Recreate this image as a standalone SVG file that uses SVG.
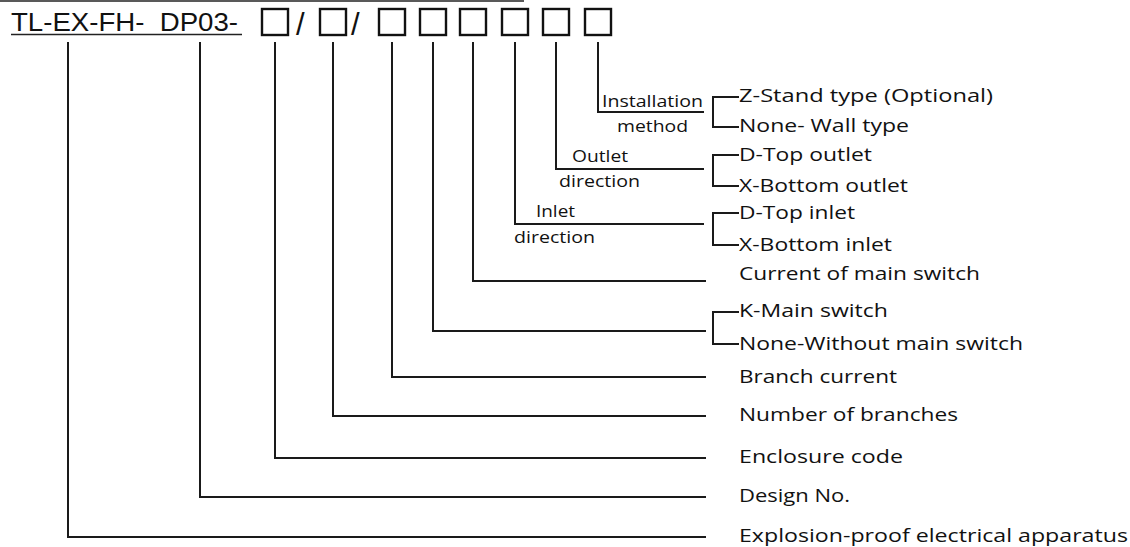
<svg xmlns="http://www.w3.org/2000/svg" width="1130" height="547" viewBox="0 0 1130 547">
<style>
.ln{fill:none;stroke:#1a1a1a;stroke-width:2;stroke-linecap:square}
.bx{fill:none;stroke:#111;stroke-width:2.4}
.t{font-family:"Open Sans","Lato",sans-serif;font-size:19px;fill:#111}
.s{font-family:"Open Sans","Lato",sans-serif;font-size:16px;fill:#111}
.h{font-family:"Liberation Sans Narrow","Liberation Sans",Arial,sans-serif;font-size:26.5px;fill:#111}
.sl{font-family:"Liberation Sans",Arial,sans-serif;font-size:31px;fill:#111}
</style>
<rect width="1130" height="547" fill="#fff"/>
<g id="header">
<line x1="0" y1="1" x2="524" y2="1" stroke="#222" stroke-width="1.6"/>
<text class="h" x="11" y="31" textLength="227" lengthAdjust="spacingAndGlyphs" xml:space="preserve">TL-EX-FH-  DP03-</text>
<line x1="11" y1="34.5" x2="242" y2="34.5" stroke="#222" stroke-width="1.6"/>
<rect class="bx" x="262" y="9" width="26" height="26"/>
<text class="sl" x="296" y="35">/</text>
<rect class="bx" x="320" y="9" width="26" height="26"/>
<text class="sl" x="351" y="35">/</text>
<rect class="bx" x="379" y="9" width="26" height="26"/>
<rect class="bx" x="420" y="9" width="26" height="26"/>
<rect class="bx" x="460" y="9" width="26" height="26"/>
<rect class="bx" x="502" y="9" width="26" height="26"/>
<rect class="bx" x="543" y="9" width="26" height="26"/>
<rect class="bx" x="585" y="9" width="26" height="26"/>
</g>
<g id="connectors">
<path class="ln" d="M598,43 V112 H703"/>
<path class="ln" d="M556,43 V169 H703"/>
<path class="ln" d="M515,43 V224 H703"/>
<path class="ln" d="M473,43 V281 H705"/>
<path class="ln" d="M433,43 V331 H705"/>
<path class="ln" d="M392,43 V377 H705"/>
<path class="ln" d="M333,43 V416 H705"/>
<path class="ln" d="M275,43 V458 H705"/>
<path class="ln" d="M200,43 V497 H705"/>
<path class="ln" d="M68,43 V537 H705"/>
<path class="ln" d="M738,97 H713 V127 H738"/>
<path class="ln" d="M738,155 H713 V186 H738"/>
<path class="ln" d="M738,213 H713 V245 H738"/>
<path class="ln" d="M738,312 H713 V344 H738"/>
</g>
<g id="installation">
<text class="s" x="602" y="107" textLength="101" lengthAdjust="spacingAndGlyphs">Installation</text>
<text class="s" x="617" y="132" textLength="71" lengthAdjust="spacingAndGlyphs">method</text>
<text class="t" x="739" y="102" textLength="254" lengthAdjust="spacingAndGlyphs">Z-Stand type (Optional)</text>
<text class="t" x="739" y="132" textLength="170" lengthAdjust="spacingAndGlyphs">None- Wall type</text>
</g>
<g id="outlet">
<text class="s" x="572" y="162" textLength="56" lengthAdjust="spacingAndGlyphs">Outlet</text>
<text class="s" x="559" y="187" textLength="81" lengthAdjust="spacingAndGlyphs">direction</text>
<text class="t" x="739" y="161" textLength="133" lengthAdjust="spacingAndGlyphs">D-Top outlet</text>
<text class="t" x="739" y="192" textLength="169" lengthAdjust="spacingAndGlyphs">X-Bottom outlet</text>
</g>
<g id="inlet">
<text class="s" x="536" y="217" textLength="39" lengthAdjust="spacingAndGlyphs">Inlet</text>
<text class="s" x="514" y="243" textLength="81" lengthAdjust="spacingAndGlyphs">direction</text>
<text class="t" x="739" y="219" textLength="116" lengthAdjust="spacingAndGlyphs">D-Top inlet</text>
<text class="t" x="739" y="251" textLength="153" lengthAdjust="spacingAndGlyphs">X-Bottom inlet</text>
</g>
<g id="main-current">
<text class="t" x="739" y="280" textLength="241" lengthAdjust="spacingAndGlyphs">Current of main switch</text>
</g>
<g id="main-switch">
<text class="t" x="739" y="317" textLength="149" lengthAdjust="spacingAndGlyphs">K-Main switch</text>
<text class="t" x="739" y="350" textLength="284" lengthAdjust="spacingAndGlyphs">None-Without main switch</text>
</g>
<g id="branch-current">
<text class="t" x="739" y="383" textLength="158" lengthAdjust="spacingAndGlyphs">Branch current</text>
</g>
<g id="branches">
<text class="t" x="739" y="421" textLength="219" lengthAdjust="spacingAndGlyphs">Number of branches</text>
</g>
<g id="enclosure">
<text class="t" x="739" y="463" textLength="164" lengthAdjust="spacingAndGlyphs">Enclosure code</text>
</g>
<g id="design">
<text class="t" x="739" y="502" textLength="111" lengthAdjust="spacingAndGlyphs">Design No.</text>
</g>
<g id="explosion">
<text class="t" x="739" y="542" textLength="389" lengthAdjust="spacingAndGlyphs">Explosion-proof electrical apparatus</text>
</g>
</svg>
